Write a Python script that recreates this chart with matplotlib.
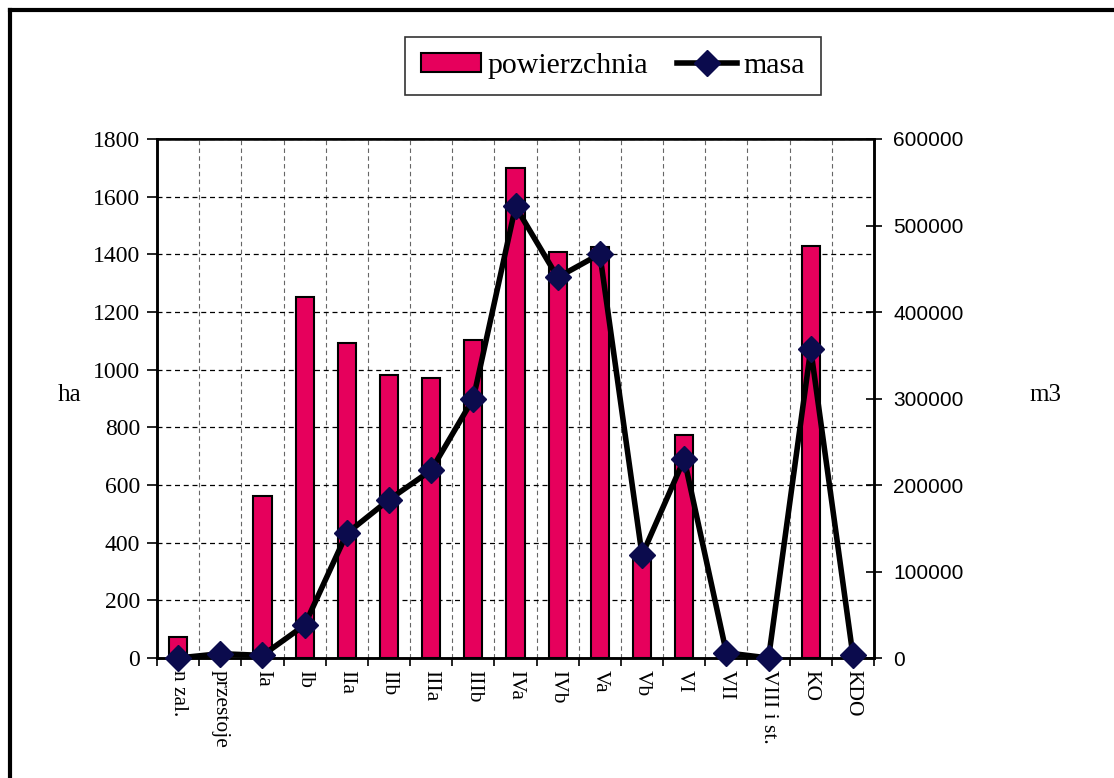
import matplotlib
matplotlib.use("Agg")
import matplotlib.pyplot as plt
import numpy as np
from matplotlib.lines import Line2D
from matplotlib.patches import Patch

categories = ["n zal.", "przestoje", "Ia", "Ib", "IIa", "IIb", "IIIa", "IIIb",
              "IVa", "IVb", "Va", "Vb", "VI", "VII", "VIII i st.", "KO", "KDO"]
powierzchnia = [72, 0, 563, 1253, 1091, 980, 972, 1102,
                1701, 1408, 1424, 360, 775, 8, 0, 1428, 6]
masa = [0, 5000, 3000, 38000, 144000, 183000, 217000, 300000,
        522000, 440000, 467000, 119000, 230000, 6000, 0, 357000, 3000]
left_ticks = list(range(0, 1801, 200))
right_ticks = list(range(0, 600001, 100000))

serif = "Liberation Serif"
sans = "Liberation Sans"
bar_color = "#E6005C"
marker_color = "#0B0B4D"

fig = plt.figure(figsize=(11.14, 7.78), dpi=100)
ax1 = fig.add_axes([157/1114, 1-658/778, (874-157)/1114, (658-139)/778])
ax2 = ax1.twinx()

x = np.arange(len(categories))
ax1.bar(x, powierzchnia, width=0.43, color=bar_color, edgecolor="black",
        linewidth=1.5, zorder=3)
ax1.set_ylim(0, 1800)
ax1.set_xlim(-0.5, len(categories) - 0.5)
ax1.set_yticks(left_ticks)
ax1.set_yticklabels([str(v) for v in left_ticks], fontfamily=serif, fontsize=17)
ax1.set_xticks(x)
ax1.set_xticklabels(categories, rotation=-90, fontfamily=serif, fontsize=15.5,
                    va="top", ha="center")
ax1.set_xticks(np.arange(len(categories) + 1) - 0.5, minor=True)
ax1.tick_params(axis="x", which="major", length=0, pad=9)
ax1.tick_params(axis="x", which="minor", length=6, direction="out", width=1.2)
ax1.tick_params(axis="y", length=7, direction="out", width=1.2, pad=5)
ax1.grid(axis="y", which="major", linestyle=(0, (4, 3)), color="black",
         linewidth=0.9, zorder=0)
ax1.grid(axis="x", which="minor", linestyle=(0, (4, 3)), color="#666666",
         linewidth=0.8, zorder=0)
ax1.set_axisbelow(True)

ax2.plot(x, masa, color="black", linewidth=4, marker="D", markersize=13,
         markerfacecolor=marker_color, markeredgecolor=marker_color, zorder=5,
         clip_on=False)
ax2.set_ylim(0, 600000)
ax2.set_yticks(right_ticks)
ax2.set_yticklabels([str(v) for v in right_ticks], fontfamily=sans, fontsize=15)
ax2.tick_params(axis="y", length=12, direction="inout", width=1.2, pad=8)

for ax in (ax1, ax2):
    for s in ax.spines.values():
        s.set_linewidth(1.8)
ax1.spines["top"].set_linewidth(1.2)

fig.text(70/1114, 1-395/778, "ha", fontfamily=serif, fontsize=18,
         ha="center", va="center")
fig.text(1045/1114, 1-395/778, "m3", fontfamily=serif, fontsize=18,
         ha="center", va="center")

handles = [Patch(facecolor=bar_color, edgecolor="black", linewidth=1.5),
           Line2D([0], [0], color="black", linewidth=4, marker="D", markersize=13,
                  markerfacecolor=marker_color, markeredgecolor=marker_color)]
leg = fig.legend(handles, ["powierzchnia", "masa"], loc="center",
                 bbox_to_anchor=(613/1114, 1-66/778), ncol=2, frameon=True,
                 fancybox=False, edgecolor="black", handlelength=2.0,
                 handleheight=0.6, handletextpad=0.2, columnspacing=1.0,
                 borderpad=0.55, prop={"family": serif, "size": 21.5})
leg.get_frame().set_linewidth(1.2)

fig.add_artist(Line2D([10/1114, 1.0], [1-10/778, 1-10/778], color="black",
                      linewidth=3, transform=fig.transFigure))
fig.add_artist(Line2D([10/1114, 10/1114], [0.0, 1-10/778], color="black",
                      linewidth=3, transform=fig.transFigure))

fig.savefig("out.png", dpi=100)
